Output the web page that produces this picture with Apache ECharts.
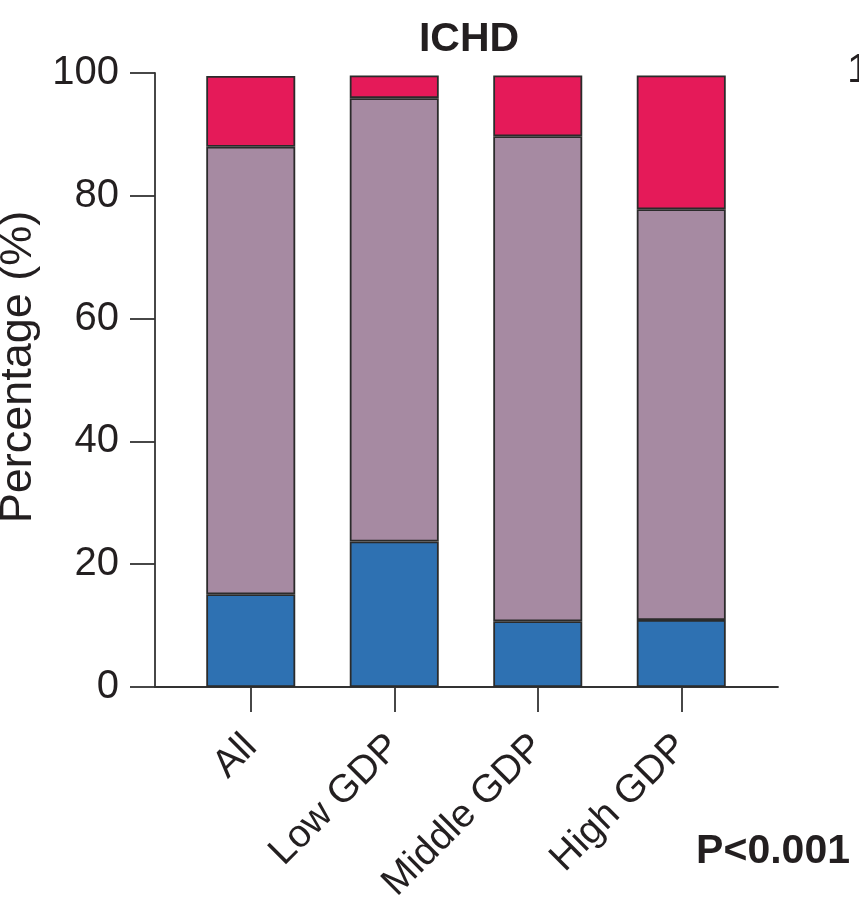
<!DOCTYPE html>
<html>
<head>
<meta charset="utf-8">
<script src="https://cdn.jsdelivr.net/npm/echarts@6/dist/echarts.min.js"></script>
<style>
  html, body { margin: 0; padding: 0; background: #ffffff; }
  #chart { width: 859px; height: 909px; }
</style>
</head>
<body>
<div id="chart"></div>
<script>
// Headache type share (%) by GDP group
const categories = ['All', 'Low GDP', 'Middle GDP', 'High GDP'];
const blueShare   = [15.1, 23.7, 10.7, 10.9];
const purpleShare = [72.9, 72.2, 79.0, 66.9];
const redShare    = [11.5, 3.7, 9.9, 21.8];
const yTicks = [0, 20, 40, 60, 80, 100];

const ink = '#231f20';
const font = 'Liberation Sans, Arial, Helvetica, sans-serif';
const edge = { borderColor: '#2b2b2b', borderWidth: 1.8 };
const axisStroke = { color: '#333', width: 1.8 };

const chart = echarts.init(document.getElementById('chart'), null, { renderer: 'canvas' });

chart.setOption({
  backgroundColor: '#ffffff',
  animation: false,
  title: {
    text: 'ICHD',
    left: 464, top: 14, textAlign: 'center',
    textStyle: { fontFamily: font, fontSize: 41, fontWeight: 'bold', color: ink }
  },
  graphic: [
    {
      type: 'text', right: 9, top: 831,
      style: { text: 'P<0.001', font: 'bold 41px ' + font, fill: ink }
    },
    {
      type: 'text', left: 847, top: 50,
      style: { text: '100', font: '41px ' + font, fill: ink }
    }
  ],
  grid: [
    // frame grid: carries the full-length axis lines and the y ticks
    { left: 155, right: 81, top: 73, bottom: 222, outerBoundsMode: 'none', containLabel: false },
    // bar grid: the four category bands, inset from the frame
    { left: 179, right: 106, top: 73, bottom: 222, outerBoundsMode: 'none', containLabel: false }
  ],
  xAxis: [
    {
      gridIndex: 0, type: 'value', min: 0, max: 1,
      axisLine: { show: true, lineStyle: axisStroke },
      axisTick: { show: false }, axisLabel: { show: false }, splitLine: { show: false }
    },
    {
      gridIndex: 1, type: 'category', data: categories,
      axisLine: { show: false },
      axisTick: { show: true, alignWithLabel: true, length: 25, lineStyle: axisStroke },
      axisLabel: {
        rotate: 45, margin: 54, interval: 0,
        fontFamily: font, fontSize: 39, color: ink
      }
    }
  ],
  yAxis: [
    {
      gridIndex: 0, type: 'value', min: 0, max: 100, interval: 20,
      axisLine: { show: true, lineStyle: axisStroke },
      axisTick: { show: true, length: 25, lineStyle: axisStroke },
      axisLabel: {
        margin: 36, fontFamily: font, fontSize: 40, color: ink,
        customValues: yTicks
      },
      splitLine: { show: false },
      name: 'Percentage (%)', nameLocation: 'middle', nameRotate: 90, nameGap: 111,
      nameTextStyle: { fontFamily: font, fontSize: 45, color: ink, padding: [0, 0, 0, 26] }
    },
    {
      gridIndex: 1, type: 'value', min: 0, max: 100,
      show: false
    }
  ],
  series: [
    {
      type: 'bar', xAxisIndex: 1, yAxisIndex: 1, stack: 'share',
      barWidth: 89, data: blueShare,
      itemStyle: Object.assign({ color: '#2e71b2' }, edge)
    },
    {
      type: 'bar', xAxisIndex: 1, yAxisIndex: 1, stack: 'share',
      barWidth: 89, data: purpleShare,
      itemStyle: Object.assign({ color: '#a68aa2' }, edge)
    },
    {
      type: 'bar', xAxisIndex: 1, yAxisIndex: 1, stack: 'share',
      barWidth: 89, data: redShare,
      itemStyle: Object.assign({ color: '#e51a59' }, edge)
    }
  ]
});
</script>
</body>
</html>
